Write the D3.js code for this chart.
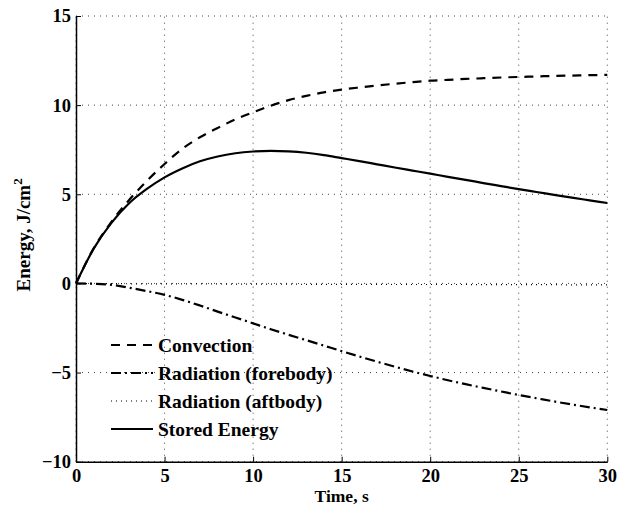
<!DOCTYPE html>
<html>
<head>
<meta charset="utf-8">
<script src="https://cdn.jsdelivr.net/npm/d3@7"></script>
<style>
  body { margin: 0; background: #fff; }
  svg { display: block; }
  text { font-family: "Liberation Serif", "Times New Roman", serif; font-weight: bold; fill: #000; }
</style>
</head>
<body>
<svg id="chart" width="619" height="506"></svg>
<script>
// Energy balance over time, J/cm^2
const time = [0,1,2,3,4,5,6,7,8,9,10,11,12,13,14,15,16,17,18,19,20,21,22,23,24,25,26,27,28,29,30];
const convection = [0,1.97,3.45,4.68,5.75,6.70,7.55,8.20,8.72,9.20,9.60,9.97,10.28,10.52,10.72,10.87,10.99,11.10,11.20,11.29,11.37,11.42,11.47,11.51,11.55,11.58,11.61,11.64,11.66,11.68,11.70];
const radForebody = [0,-0.02,-0.08,-0.24,-0.43,-0.64,-0.92,-1.24,-1.58,-1.91,-2.24,-2.57,-2.88,-3.18,-3.49,-3.80,-4.10,-4.39,-4.67,-4.94,-5.19,-5.43,-5.65,-5.86,-6.06,-6.26,-6.44,-6.62,-6.79,-6.95,-7.10];
const radAftbody = [0,-0.01,-0.01,-0.02,-0.02,-0.02,-0.03,-0.03,-0.03,-0.04,-0.04,-0.04,-0.04,-0.05,-0.05,-0.05,-0.05,-0.05,-0.06,-0.06,-0.06,-0.06,-0.06,-0.07,-0.07,-0.07,-0.07,-0.07,-0.08,-0.08,-0.08];
const storedEnergy = [0,1.95,3.40,4.50,5.30,5.95,6.45,6.85,7.12,7.30,7.40,7.44,7.41,7.33,7.20,7.03,6.86,6.68,6.50,6.33,6.16,5.98,5.81,5.63,5.46,5.29,5.13,4.97,4.81,4.66,4.51];

const xTicks = [0,5,10,15,20,25,30];
const yTicks = [-10,-5,0,5,10,15];
const seriesNames = ["Convection","Radiation (forebody)","Radiation (aftbody)","Stored Energy"];

const series = [
  { name: seriesNames[0], values: convection,   dash: "9,7",       width: 2.2 },
  { name: seriesNames[1], values: radForebody,  dash: "10,4,2,4",  width: 2.2 },
  { name: seriesNames[2], values: radAftbody,   dash: "1,4",       width: 1.2 },
  { name: seriesNames[3], values: storedEnergy, dash: null,        width: 2.2 }
];

const svg = d3.select("#chart");
const plotLeft = 76, plotRight = 607.3, plotTop = 16, plotBottom = 461.7;

const x = d3.scaleLinear().domain([0, 30]).range([plotLeft, plotRight]);
const y = d3.scaleLinear().domain([-10, 15]).range([plotBottom, plotTop]);

// dotted grid
const grid = svg.append("g").attr("stroke", "#444").attr("stroke-width", 1).attr("stroke-dasharray", "1,5");
grid.selectAll("line.v").data(xTicks).join("line").attr("class", "v")
  .attr("x1", d => x(d)).attr("x2", d => x(d))
  .attr("y1", plotBottom).attr("y2", plotTop);
grid.selectAll("line.h").data(yTicks).join("line").attr("class", "h")
  .attr("x1", plotLeft).attr("x2", plotRight)
  .attr("y1", d => y(d)).attr("y2", d => y(d));

// curves
const line = d3.line()
  .x((d, i) => x(time[i]))
  .y(d => y(d))
  .curve(d3.curveMonotoneX);

svg.append("g").selectAll("path").data(series).join("path")
  .attr("d", s => line(s.values))
  .attr("fill", "none")
  .attr("stroke", "#000")
  .attr("stroke-width", s => s.width)
  .attr("stroke-dasharray", s => s.dash);

// axes
const xAxis = d3.axisBottom(x).tickValues(xTicks).tickSizeInner(-5).tickSizeOuter(0).tickPadding(7.5).tickFormat(d3.format("d"));
const yAxis = d3.axisLeft(y).tickValues(yTicks).tickSizeInner(-5).tickSizeOuter(0).tickPadding(5)
  .tickFormat(d => d < 0 ? "\u2212" + Math.abs(d) : String(d));

const gx = svg.append("g").attr("transform", `translate(0,${plotBottom})`).call(xAxis);
const gy = svg.append("g").attr("transform", `translate(${plotLeft},0)`).call(yAxis);
[gx, gy].forEach(g => {
  g.select(".domain").attr("stroke", "#000").attr("stroke-width", 1.5);
  g.selectAll(".tick line").attr("stroke", "#000").attr("stroke-width", 1);
  g.selectAll(".tick text").style("font-family", "'Liberation Serif', 'Times New Roman', serif")
    .style("font-weight", "bold").style("font-size", "18.5px").attr("fill", "#000");
});

// axis labels
svg.append("text")
  .attr("x", (plotLeft + plotRight) / 2).attr("y", 501.5)
  .attr("text-anchor", "middle")
  .style("font-size", "17.5px")
  .text("Time, s");

const yl = svg.append("text")
  .attr("transform", `translate(30,${(plotTop + plotBottom) / 2 - 4}) rotate(-90)`)
  .attr("text-anchor", "middle")
  .style("font-size", "19px");
yl.append("tspan").text("Energy, J/cm");
yl.append("tspan").attr("dy", -8).style("font-size", "13px").text("2");

// legend
const legend = svg.append("g");
const rows = legend.selectAll("g").data(series).join("g")
  .attr("transform", (d, i) => `translate(0,${345 + i * 28})`);
rows.append("line")
  .attr("x1", 111).attr("x2", 153).attr("y1", 0).attr("y2", 0)
  .attr("stroke", "#000")
  .attr("stroke-width", s => s.width)
  .attr("stroke-dasharray", s => s.dash);
rows.append("text")
  .attr("x", 158).attr("y", 7)
  .style("font-size", "19.5px")
  .text(s => s.name);
</script>
</body>
</html>
